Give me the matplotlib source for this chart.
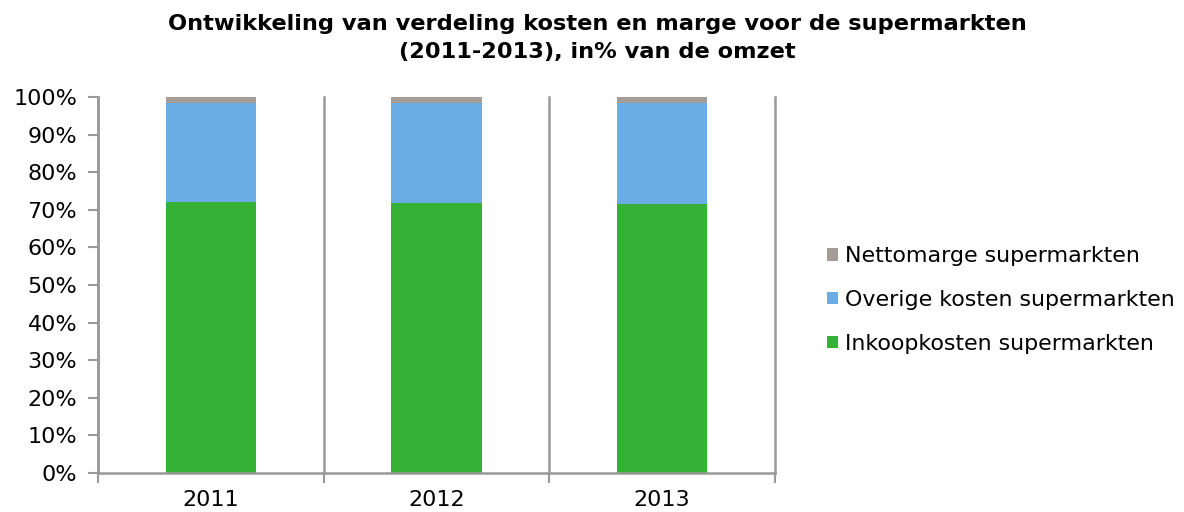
import numpy as np
import matplotlib.pyplot as plt
from matplotlib.ticker import FixedLocator, PercentFormatter

# Kostenverdeling supermarkten, in % van de omzet
jaren = ['2011', '2012', '2013']
inkoopkosten = [72.1, 71.7, 71.5]
overige_kosten = [26.4, 26.7, 26.9]
nettomarge = [1.5, 1.9, 1.6]

kleur_inkoop = '#35B236'
kleur_overig = '#6AADE4'
kleur_netto = '#A49D97'
lijn = '#999999'

plt.rcParams['font.family'] = ['Verdana', 'DejaVu Sans']

fig = plt.figure(figsize=(11.84, 5.12), dpi=100)
ax = fig.add_axes([98/1184, 39/512, 677/1184, 376/512])

x = np.arange(len(jaren))
breedte = 0.40
onder2 = np.array(inkoopkosten) + np.array(overige_kosten)

b1 = ax.bar(x, inkoopkosten, breedte, color=kleur_inkoop, label='Inkoopkosten supermarkten')
b2 = ax.bar(x, overige_kosten, breedte, bottom=inkoopkosten, color=kleur_overig,
            label='Overige kosten supermarkten')
b3 = ax.bar(x, nettomarge, breedte, bottom=onder2, color=kleur_netto,
            label='Nettomarge supermarkten')

ax.set_xlim(-0.5, len(jaren) - 0.5)
ax.set_ylim(0, 100)
ax.set_yticks(np.arange(0, 101, 10))
ax.yaxis.set_major_formatter(PercentFormatter(decimals=0))

# scheidingslijnen tussen de jaren
grenzen = np.arange(-0.5, len(jaren), 1.0)
ax.set_xticks(x)
ax.set_xticklabels(jaren)
ax.xaxis.set_minor_locator(FixedLocator(grenzen))
ax.tick_params(axis='x', which='major', length=0, pad=12, labelsize=16, colors='#000000')
ax.tick_params(axis='x', which='minor', length=7, width=1.5, color=lijn, direction='out')
ax.tick_params(axis='y', length=7, width=1.5, color=lijn, labelsize=16, pad=8)
for g in grenzen:
    ax.axvline(g, color=lijn, lw=1.8, zorder=0, clip_on=False)

for kant in ['top', 'right']:
    ax.spines[kant].set_visible(False)
for kant in ['left', 'bottom']:
    ax.spines[kant].set_color(lijn)
    ax.spines[kant].set_linewidth(1.8)

fig.suptitle('Ontwikkeling van verdeling kosten en marge voor de supermarkten\n(2011-2013), in% van de omzet',
             x=597/1184, y=0.972, fontsize=16.2, fontweight='bold', linespacing=1.45)

handles = [b3, b2, b1]
fig.legend(handles, [h.get_label() for h in handles], loc='center left',
           bbox_to_anchor=(807/1184, 1 - 300/512), frameon=False,
           fontsize=15.9, handlelength=0.5, handleheight=0.5, handletextpad=0.3,
           labelspacing=1.08)

fig.savefig('out.png', dpi=100)
